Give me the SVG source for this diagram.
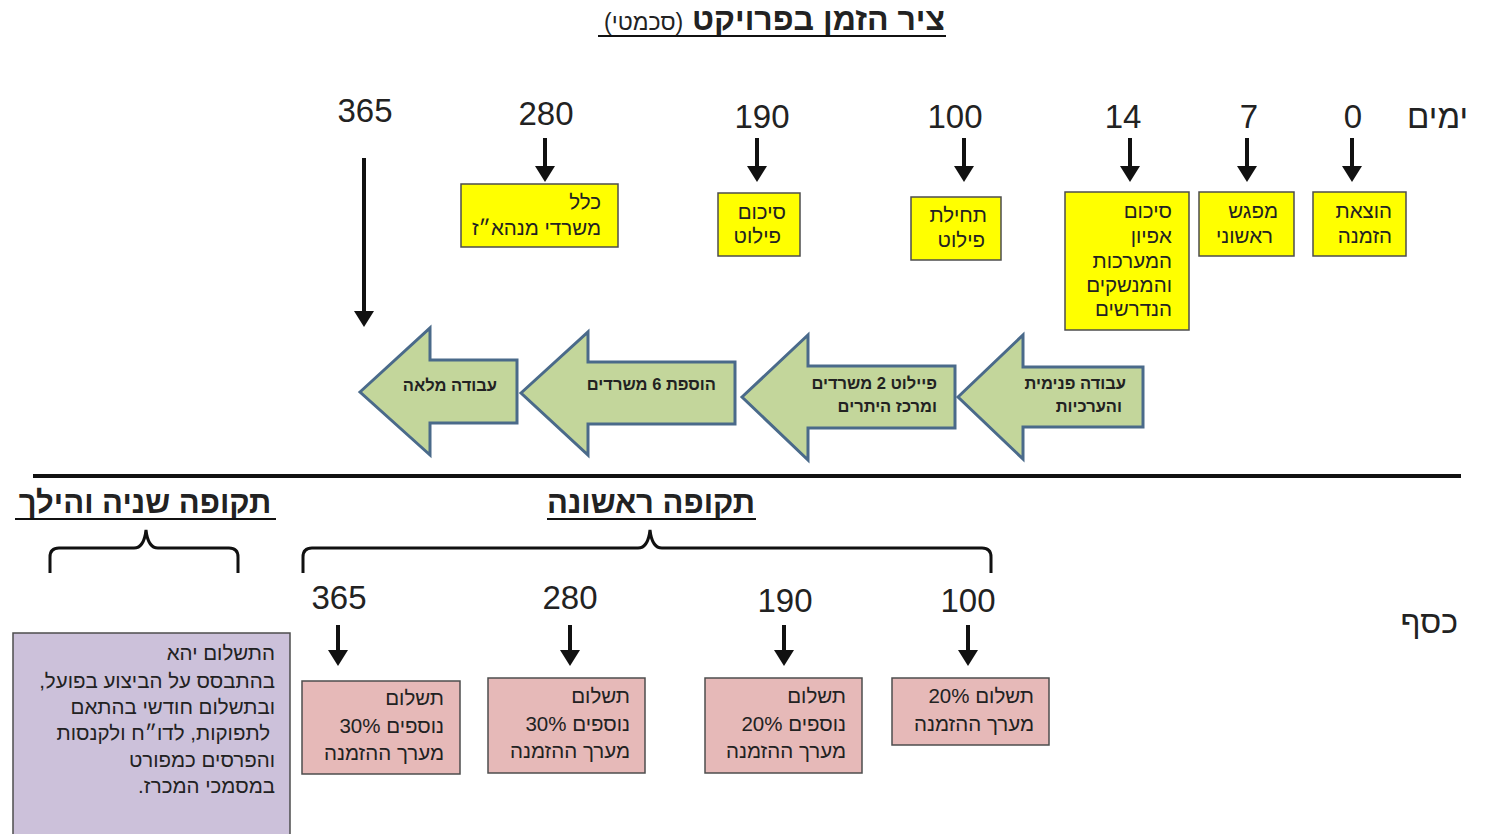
<svg xmlns="http://www.w3.org/2000/svg" width="1488" height="834" viewBox="0 0 1488 834">
  <defs>
    <marker id="head" markerUnits="userSpaceOnUse" markerWidth="16" markerHeight="20" refX="2" refY="10" orient="auto" viewBox="0 0 16 20">
      <path d="M0,0 L16,10 L0,20 Z" fill="#111"/>
    </marker>
    <style>
      .he { font-family: "Liberation Sans", "DejaVu Sans", sans-serif; direction: rtl; unicode-bidi: embed; fill: #222; }
      .num { font-family: "Liberation Sans", "DejaVu Sans", sans-serif; font-size: 33px; fill: #222; text-anchor: middle; }
      .box { font-size: 20.5px; text-anchor: start; }
      .yellow { fill: #ffff00; stroke: #4d4d4d; stroke-width: 1.5; }
      .pink { fill: #e6b9b8; stroke: #4d4d4d; stroke-width: 1.5; }
      .purple { fill: #ccc1da; stroke: #4d4d4d; stroke-width: 1.5; }
      .block { fill: #c3d69b; stroke: #4a6a8a; stroke-width: 3; stroke-linejoin: miter; }
      .blabel { font-size: 16.5px; font-weight: bold; text-anchor: start; }
      .down { stroke: #111; stroke-width: 4; marker-end: url(#head); fill: none; }
      .brace { stroke: #111; stroke-width: 3; fill: none; }
      .period { font-size: 31px; font-weight: bold; text-anchor: middle; }
    </style>
  </defs>

  <rect width="1488" height="834" fill="#ffffff"/>

  <!-- title -->
  <g id="title">
    <text class="he" x="945" y="30" style="font-size:32px;font-weight:bold" text-anchor="start">ציר הזמן בפרויקט <tspan style="font-size:23px;font-weight:normal">(סכמטי)</tspan></text>
    <line x1="598" y1="36" x2="946" y2="36" stroke="#111" stroke-width="2"/>
  </g>

  <!-- axis labels -->
  <g id="axis-labels">
    <text class="he" x="1468" y="128" style="font-size:33px" text-anchor="start">ימים</text>
    <text class="he" x="1458" y="633" style="font-size:32px" text-anchor="start">כסף</text>
  </g>

  <!-- day numbers, upper row -->
  <g id="days-top">
    <text class="num" x="1353" y="128">0</text>
    <text class="num" x="1249" y="128">7</text>
    <text class="num" x="1123" y="128">14</text>
    <text class="num" x="955" y="128">100</text>
    <text class="num" x="762" y="128">190</text>
    <text class="num" x="546" y="125">280</text>
    <text class="num" x="365" y="122">365</text>
  </g>

  <!-- day numbers, payment row -->
  <g id="days-bottom">
    <text class="num" x="339" y="609">365</text>
    <text class="num" x="570" y="609">280</text>
    <text class="num" x="785" y="612">190</text>
    <text class="num" x="968" y="612">100</text>
  </g>

  <!-- connectors -->
  <g id="connectors">
    <line class="down" x1="1352" y1="138" x2="1352" y2="168"/>
    <line class="down" x1="1247" y1="138" x2="1247" y2="168"/>
    <line class="down" x1="1130" y1="138" x2="1130" y2="168"/>
    <line class="down" x1="964" y1="138" x2="964" y2="168"/>
    <line class="down" x1="757" y1="138" x2="757" y2="168"/>
    <line class="down" x1="545" y1="138" x2="545" y2="168"/>
    <line class="down" x1="364" y1="158" x2="364" y2="313"/>
    <line class="down" x1="338" y1="625" x2="338" y2="652"/>
    <line class="down" x1="570" y1="625" x2="570" y2="652"/>
    <line class="down" x1="784" y1="625" x2="784" y2="652"/>
    <line class="down" x1="968" y1="625" x2="968" y2="652"/>
  </g>

  <!-- milestone boxes -->
  <g id="m-order">
    <rect class="yellow" x="1313" y="192" width="93" height="64"/>
    <text class="he box" x="1392" y="218">הוצאת</text>
    <text class="he box" x="1392" y="243">הזמנה</text>
  </g>
  <g id="m-meeting">
    <rect class="yellow" x="1199" y="192" width="95" height="64"/>
    <text class="he box" x="1278" y="218">מפגש</text>
    <text class="he box" x="1273" y="243">ראשוני</text>
  </g>
  <g id="m-spec">
    <rect class="yellow" x="1065" y="192" width="124" height="138"/>
    <text class="he box" x="1172" y="218">סיכום</text>
    <text class="he box" x="1172" y="243">אפיון</text>
    <text class="he box" x="1172" y="268">המערכות</text>
    <text class="he box" x="1172" y="292">והמנשקים</text>
    <text class="he box" x="1172" y="316">הנדרשים</text>
  </g>
  <g id="m-pilot-start">
    <rect class="yellow" x="911" y="197" width="90" height="63"/>
    <text class="he box" x="987" y="222">תחילת</text>
    <text class="he box" x="985" y="247">פילוט</text>
  </g>
  <g id="m-pilot-summary">
    <rect class="yellow" x="718" y="193" width="82" height="63"/>
    <text class="he box" x="786" y="219">סיכום</text>
    <text class="he box" x="781" y="243">פילוט</text>
  </g>
  <g id="m-all-offices">
    <rect class="yellow" x="461" y="184" width="157" height="63"/>
    <text class="he box" x="601" y="209">כלל</text>
    <text class="he box" x="601" y="235">משרדי מנהא״ז</text>
  </g>

  <!-- work-phase block arrows -->
  <g id="phase-internal">
    <path class="block" d="M958,397 L1023,335 L1023,367 L1143,367 L1143,427 L1023,427 L1023,459 Z"/>
    <text class="he blabel" x="1126" y="389">עבודה פנימית</text>
    <text class="he blabel" x="1122" y="412">והערכיות</text>
  </g>
  <g id="phase-pilot">
    <path class="block" d="M742,397 L808,335 L808,366 L955,366 L955,428 L808,428 L808,460 Z"/>
    <text class="he blabel" x="937" y="389">פיילוט 2 משרדים</text>
    <text class="he blabel" x="937" y="412">ומרכז היתרים</text>
  </g>
  <g id="phase-six">
    <path class="block" d="M521,393 L588,332 L588,362 L735,362 L735,424 L588,424 L588,455 Z"/>
    <text class="he blabel" x="716" y="390">הוספת 6 משרדים</text>
  </g>
  <g id="phase-full">
    <path class="block" d="M360,392 L430,328 L430,360 L517,360 L517,423 L430,423 L430,455 Z"/>
    <text class="he blabel" x="497" y="391">עבודה מלאה</text>
  </g>

  <!-- divider -->
  <line x1="33" y1="476" x2="1461" y2="476" stroke="#111" stroke-width="4"/>

  <!-- periods -->
  <g id="period-second">
    <text class="he period" x="145" y="513">תקופה שניה והילך</text>
    <line x1="15" y1="519" x2="276" y2="519" stroke="#111" stroke-width="2"/>
    <path class="brace" d="M50,573 V557 Q50,548 59,548 H134 Q144,548 146,530 Q148,548 158,548 H229 Q238,548 238,557 V573"/>
  </g>
  <g id="period-first">
    <text class="he period" x="651" y="513">תקופה ראשונה</text>
    <line x1="547" y1="519" x2="756" y2="519" stroke="#111" stroke-width="2"/>
    <path class="brace" d="M303,573 V557 Q303,548 312,548 H638 Q648,548 650,530 Q652,548 662,548 H982 Q991,548 991,557 V573"/>
  </g>

  <!-- payments -->
  <g id="pay-365">
    <rect class="pink" x="302" y="681" width="158" height="93"/>
    <text class="he box" x="444" y="705">תשלום</text>
    <text class="he box" x="444" y="733">נוספים  30%</text>
    <text class="he box" x="444" y="760">מערך ההזמנה</text>
  </g>
  <g id="pay-280">
    <rect class="pink" x="488" y="678" width="157" height="95"/>
    <text class="he box" x="630" y="703">תשלום</text>
    <text class="he box" x="630" y="731">נוספים  30%</text>
    <text class="he box" x="630" y="758">מערך ההזמנה</text>
  </g>
  <g id="pay-190">
    <rect class="pink" x="705" y="678" width="157" height="95"/>
    <text class="he box" x="846" y="703">תשלום</text>
    <text class="he box" x="846" y="731">נוספים 20%</text>
    <text class="he box" x="846" y="758">מערך ההזמנה</text>
  </g>
  <g id="pay-100">
    <rect class="pink" x="892" y="678" width="157" height="67"/>
    <text class="he box" x="1034" y="703">תשלום 20%</text>
    <text class="he box" x="1034" y="731">מערך ההזמנה</text>
  </g>
  <g id="pay-ongoing">
    <rect class="purple" x="13" y="633" width="277" height="210"/>
    <text class="he box" x="275" y="660">התשלום יהא</text>
    <text class="he box" x="275" y="688">בהתבסס על הביצוע בפועל,</text>
    <text class="he box" x="275" y="714">ובתשלום חודשי בהתאם</text>
    <text class="he box" x="270" y="740">לתפוקות,  לדו״ח ולקנסות</text>
    <text class="he box" x="275" y="767">והפרסים כמפורט</text>
    <text class="he box" x="275" y="793">במסמכי המכרז.</text>
  </g>
</svg>
